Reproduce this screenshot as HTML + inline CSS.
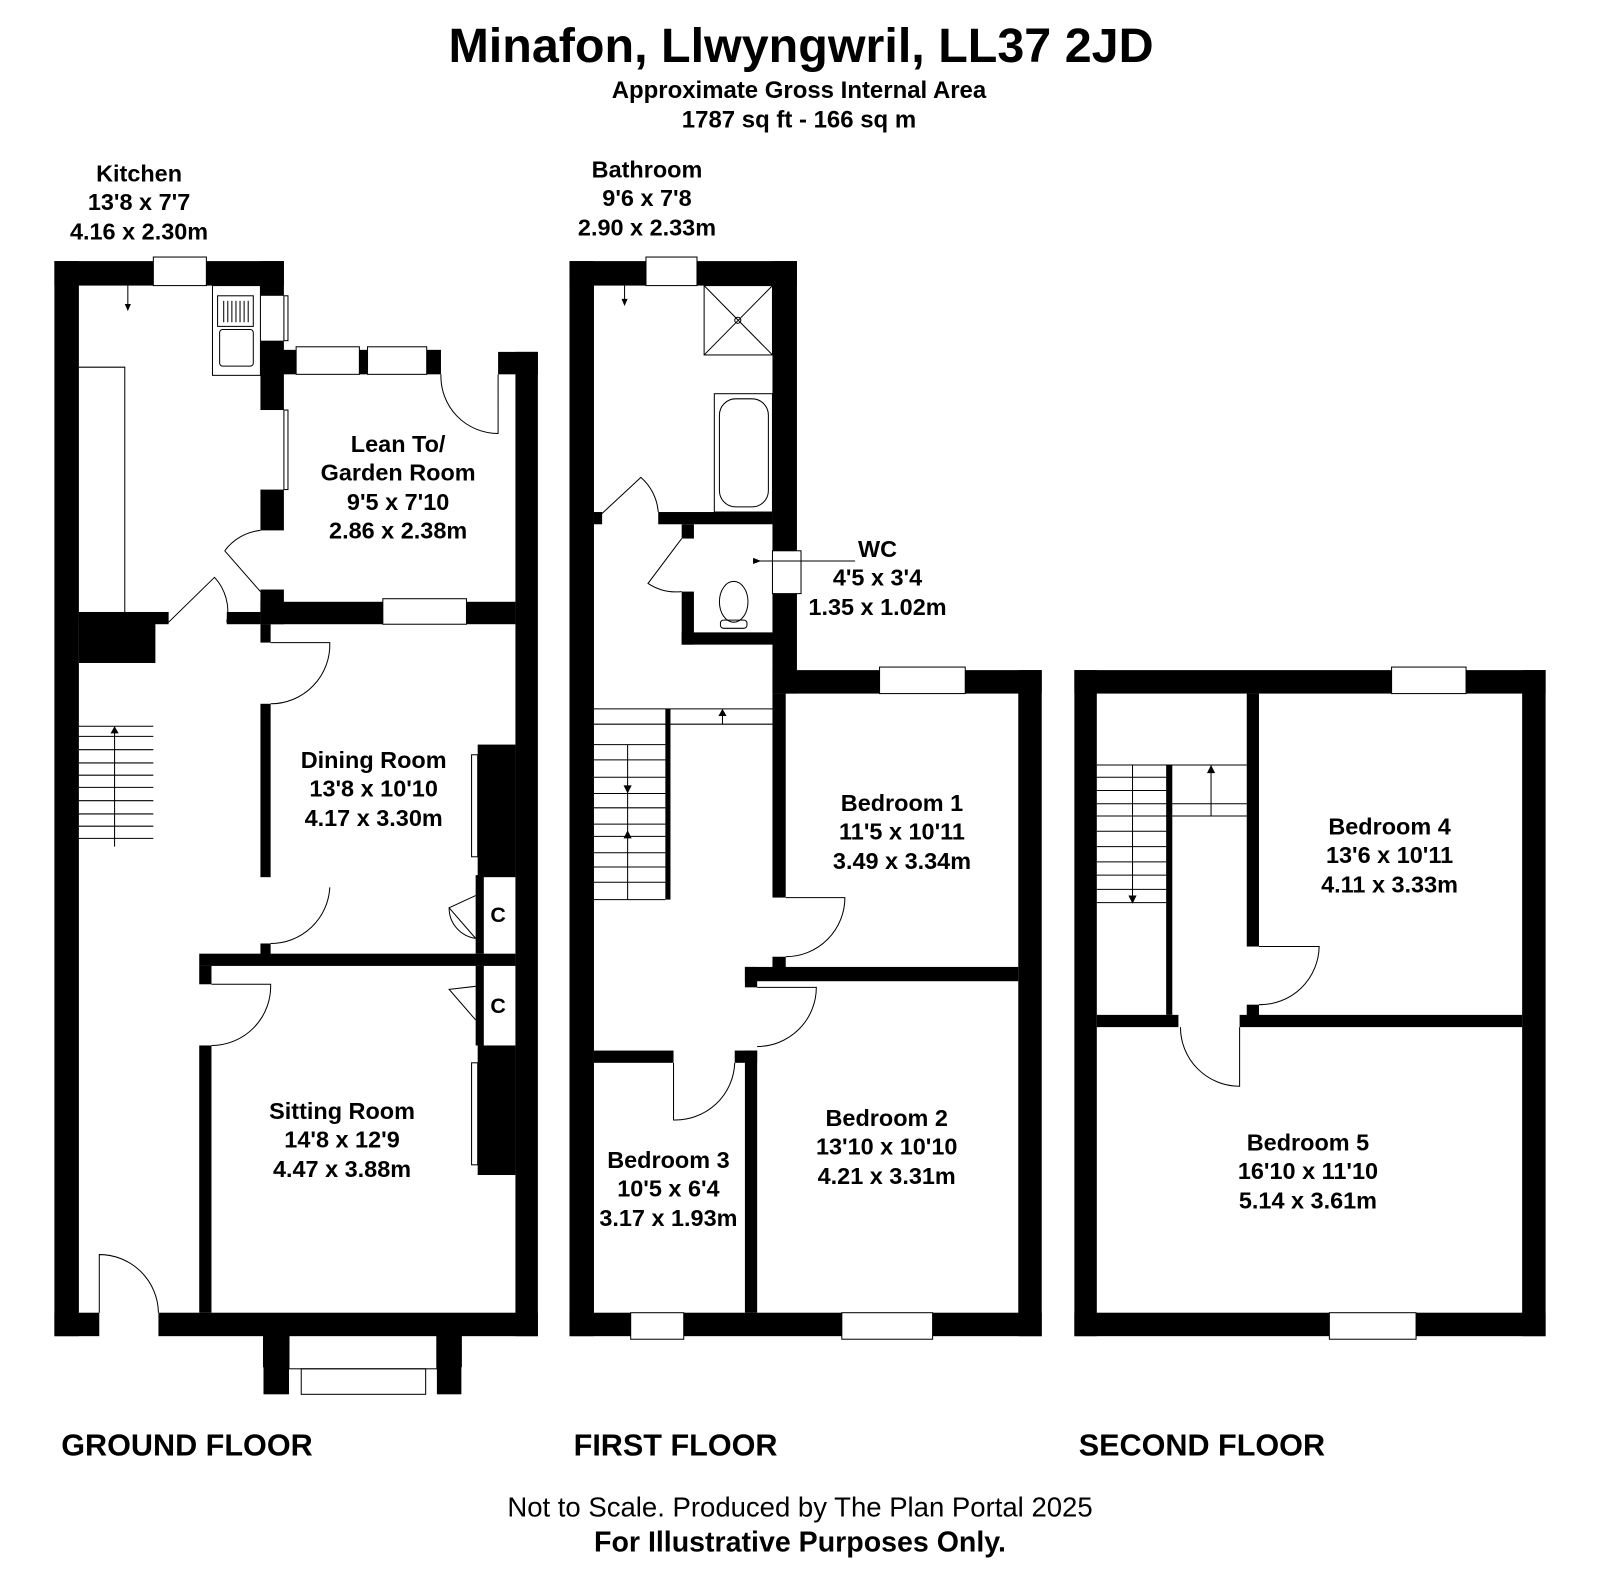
<!DOCTYPE html>
<html><head><style>
html,body{margin:0;padding:0;background:#fff;}
svg{display:block;}
text{font-family:"Liberation Sans",Arial,sans-serif;font-weight:bold;fill:#000;text-anchor:middle;}
.l{font-size:23px;}
</style></head><body>
<svg width="1600" height="1583" viewBox="0 0 1568 1552" xmlns="http://www.w3.org/2000/svg">
<rect width="1568" height="1552" fill="#fff"/>
<text x="785" y="61" style="font-size:47.5px">Minafon, Llwyngwril, LL37 2JD</text>
<text x="783" y="96" style="font-size:23.5px">Approximate Gross Internal Area</text>
<text x="783" y="125" style="font-size:23.5px">1787 sq ft - 166 sq m</text>

<g fill="#000">
<rect x="53" y="256" width="24" height="1054"/>
<rect x="53" y="256" width="97" height="24"/><rect x="202" y="256" width="76" height="24"/>
<rect x="255" y="256" width="23" height="34"/><rect x="255" y="334" width="23" height="68"/><rect x="255" y="480" width="23" height="40"/>
<rect x="255" y="343" width="35" height="24"/><rect x="352" y="343" width="8" height="24"/><rect x="418" y="343" width="14" height="24"/>
<rect x="488" y="345" width="39" height="22"/><rect x="505" y="345" width="22" height="965"/>
<rect x="77" y="600" width="88" height="12"/><rect x="77" y="600" width="75" height="50"/>
<rect x="222" y="600" width="33" height="12"/><rect x="255" y="578" width="23" height="34"/><rect x="255" y="590" width="120" height="22"/><rect x="457" y="590" width="48" height="22"/>
<rect x="255" y="612" width="10" height="18"/><rect x="255" y="690" width="10" height="170"/><rect x="255" y="925" width="10" height="12"/>
<rect x="195" y="935" width="310" height="12"/>
<rect x="195" y="947" width="12" height="18"/><rect x="195" y="1025" width="12" height="262"/>
<rect x="53" y="1287" width="44" height="23"/><rect x="155" y="1287" width="372" height="23"/>
<rect x="258" y="1310" width="25" height="57"/><rect x="428" y="1310" width="24" height="57"/>
<rect x="468" y="730" width="37" height="130"/><rect x="468" y="1025" width="37" height="127"/>
<rect x="466" y="858" width="8" height="77"/><rect x="466" y="947" width="8" height="78"/>
<rect x="558" y="256" width="24" height="1054"/>
<rect x="558" y="256" width="75" height="24"/><rect x="683" y="256" width="98" height="24"/>
<rect x="757" y="256" width="24" height="284"/><rect x="757" y="582" width="24" height="98"/>
<rect x="757" y="657" width="105" height="23"/><rect x="946" y="657" width="75" height="23"/>
<rect x="998" y="657" width="23" height="653"/>
<rect x="558" y="1287" width="60" height="23"/><rect x="670" y="1287" width="155" height="23"/><rect x="914" y="1287" width="107" height="23"/>
<rect x="582" y="502" width="8" height="12"/><rect x="645" y="502" width="112" height="12"/>
<rect x="668" y="514" width="12" height="14"/><rect x="668" y="580" width="12" height="52"/><rect x="668" y="620" width="100" height="12"/>
<rect x="652" y="695" width="5" height="187"/>
<rect x="757" y="680" width="13" height="200"/>
<rect x="757" y="938" width="13" height="12"/><rect x="730" y="948" width="268" height="14"/><rect x="730" y="948" width="12" height="20"/>
<rect x="582" y="1030" width="78" height="12"/><rect x="720" y="1030" width="22" height="12"/>
<rect x="730" y="1030" width="12" height="257"/>
<rect x="1053" y="657" width="22" height="653"/><rect x="1492" y="657" width="23" height="653"/>
<rect x="1053" y="657" width="311" height="23"/><rect x="1437" y="657" width="78" height="23"/>
<rect x="1053" y="1287" width="250" height="23"/><rect x="1388" y="1287" width="127" height="23"/>
<rect x="1222" y="680" width="12" height="248"/><rect x="1222" y="985" width="12" height="12"/>
<rect x="1143" y="750" width="6" height="245"/>
<rect x="1075" y="995" width="80" height="12"/><rect x="1215" y="995" width="277" height="12"/>
</g>

<g fill="none" stroke="#000" stroke-width="1">
<rect x="150" y="252" width="52" height="28"/><rect x="278" y="290" width="4" height="44"/><rect x="278" y="402" width="4" height="78"/>
<rect x="290" y="340" width="62" height="27"/><rect x="360" y="340" width="58" height="27"/><rect x="375" y="587" width="82" height="25"/>
<rect x="258" y="1310" width="25" height="30"/><rect x="428" y="1310" width="24" height="30"/><rect x="283" y="1290" width="145" height="52"/><rect x="295" y="1342" width="122" height="25"/>
<rect x="633" y="252" width="50" height="28"/><rect x="757" y="540" width="28" height="42"/><rect x="862" y="654" width="84" height="26"/>
<rect x="618" y="1287" width="52" height="26"/><rect x="825" y="1287" width="89" height="26"/>
<rect x="1364" y="654" width="73" height="26"/><rect x="1303" y="1287" width="85" height="26"/>
<rect x="208" y="280" width="47" height="88"/><rect x="213" y="290" width="35" height="30"/><rect x="215" y="323" width="33" height="36" rx="3"/>
<path d="M 219 295 V 316 M 223 295 V 316 M 227 295 V 316 M 231 295 V 316 M 235 295 V 316 M 239 295 V 316 M 243 295 V 316"/>
<polyline points="77,360 122,360 122,600"/>
<line x1="125" y1="280" x2="125" y2="300"/>
<path d="M 432 367 A 56 56 0 0 0 488 425 V 367"/>
<path d="M 220 540 L 255 580 M 220 540 A 50 50 0 0 1 255 520"/>
<path d="M 165 610 L 210 566 A 50 50 0 0 1 222 610"/>
<path d="M 265 630 H 323 A 58 58 0 0 1 265 690"/>
<path d="M 265 925 A 58 58 0 0 0 323 870"/>
<path d="M 207 965 H 265 A 58 58 0 0 1 207 1025"/>
<path d="M 97 1287 V 1230 A 58 58 0 0 1 155 1287"/>
<path d="M 466 878 L 440 890 L 466 920"/><path d="M 440 890 A 30 30 0 0 0 466 920"/>
<path d="M 466 967 L 440 970 L 466 1000"/>
<rect x="462" y="740" width="6" height="100"/><rect x="462" y="1042" width="6" height="100"/>
<path d="M 77 712 H 150 M 77 722 H 150 M 77 735 H 150 M 77 748 H 150 M 77 760 H 150 M 77 772 H 150 M 77 785 H 150 M 77 798 H 150 M 77 810 H 150 M 77 822 H 150 M 112 712 V 830"/>
<rect x="690" y="280" width="67" height="68"/><path d="M 690 280 L 757 348 M 757 280 L 690 348"/><circle cx="723" cy="314" r="3"/>
<rect x="700" y="386" width="57" height="116"/><rect x="705" y="391" width="48" height="106" rx="16"/>
<path d="M 585 508 L 628 468 A 50 50 0 0 1 645 502"/>
<path d="M 668 528 L 635 572 A 50 50 0 0 0 668 580"/>
<ellipse cx="719" cy="590" rx="14" ry="20"/><rect x="706" y="608" width="26" height="8" rx="3"/>
<line x1="612" y1="280" x2="612" y2="295"/>
<line x1="738" y1="550" x2="838" y2="550"/>
<path d="M 582 695 H 757 M 582 710 H 757 M 582 730 H 652 M 582 745 H 652 M 582 762 H 652 M 582 778 H 652 M 582 792 H 652 M 582 808 H 652 M 582 820 H 652 M 582 836 H 652 M 582 850 H 652 M 582 865 H 652 M 582 882 H 652 M 615 730 V 882 M 708 695 V 710"/>
<path d="M 770 880 H 828 A 58 58 0 0 1 770 938"/>
<path d="M 742 968 H 800 A 58 58 0 0 1 742 1026"/>
<path d="M 660 1042 V 1098 A 58 58 0 0 0 720 1042"/>
<path d="M 1075 750 H 1222 M 1075 762 H 1143 M 1075 775 H 1143 M 1075 788 H 1222 M 1075 800 H 1222 M 1075 815 H 1143 M 1075 830 H 1143 M 1075 845 H 1143 M 1075 858 H 1143 M 1075 872 H 1143 M 1075 885 H 1143 M 1110 750 V 885 M 1187 750 V 800"/>
<path d="M 1234 928 H 1293 A 58 58 0 0 1 1234 985"/>
<path d="M 1215 1007 V 1065 A 58 58 0 0 1 1157 1007"/>
</g>
<g fill="#000">
<polygon points="122,298 128,298 125,305"/><polygon points="609,293 615,293 612,300"/><polygon points="738,547 746,550 738,553"/>
<polygon points="108,719 116,719 112,712"/><polygon points="704,702 712,702 708,695"/>
<polygon points="611,770 619,770 615,778"/><polygon points="611,822 619,822 615,814"/>
<polygon points="1106,878 1114,878 1110,886"/><polygon points="1183,758 1191,758 1187,750"/>
</g>
<text x="488" y="904" style="font-size:21px">C</text>
<text x="488" y="993" style="font-size:21px">C</text>

<g class="l">
<text x="136" y="178">Kitchen</text><text x="136" y="206">13'8 x 7'7</text><text x="136" y="235">4.16 x 2.30m</text>
<text x="390" y="443">Lean To/</text><text x="390" y="471">Garden Room</text><text x="390" y="500">9'5 x 7'10</text><text x="390" y="528">2.86 x 2.38m</text>
<text x="366" y="753">Dining Room</text><text x="366" y="781">13'8 x 10'10</text><text x="366" y="810">4.17 x 3.30m</text>
<text x="335" y="1097">Sitting Room</text><text x="335" y="1125">14'8 x 12'9</text><text x="335" y="1154">4.47 x 3.88m</text>
<text x="634" y="174">Bathroom</text><text x="634" y="202">9'6 x 7'8</text><text x="634" y="231">2.90 x 2.33m</text>
<text x="860" y="546">WC</text><text x="860" y="574">4'5 x 3'4</text><text x="860" y="603">1.35 x 1.02m</text>
<text x="884" y="795">Bedroom 1</text><text x="884" y="823">11'5 x 10'11</text><text x="884" y="852">3.49 x 3.34m</text>
<text x="869" y="1104">Bedroom 2</text><text x="869" y="1132">13'10 x 10'10</text><text x="869" y="1161">4.21 x 3.31m</text>
<text x="655" y="1145">Bedroom 3</text><text x="655" y="1173">10'5 x 6'4</text><text x="655" y="1202">3.17 x 1.93m</text>
<text x="1362" y="818">Bedroom 4</text><text x="1362" y="846">13'6 x 10'11</text><text x="1362" y="875">4.11 x 3.33m</text>
<text x="1282" y="1128">Bedroom 5</text><text x="1282" y="1156">16'10 x 11'10</text><text x="1282" y="1185">5.14 x 3.61m</text>
</g>
<text x="183" y="1427" style="font-size:30px">GROUND FLOOR</text>
<text x="662" y="1427" style="font-size:30px">FIRST FLOOR</text>
<text x="1178" y="1427" style="font-size:30px">SECOND FLOOR</text>
<text x="784" y="1487" style="font-size:27px;font-weight:normal">Not to Scale. Produced by The Plan Portal 2025</text>
<text x="784" y="1521" style="font-size:28px">For Illustrative Purposes Only.</text>
</svg>
</body></html>
